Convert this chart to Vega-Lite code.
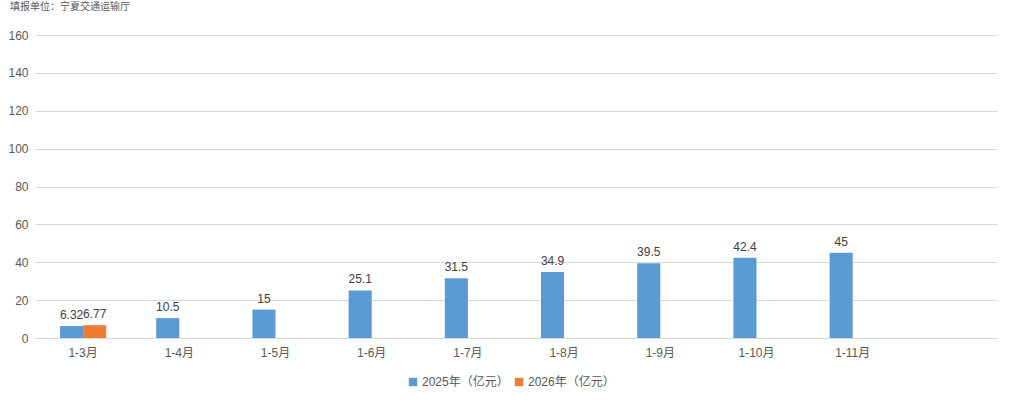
{
  "$schema": "https://vega.github.io/schema/vega-lite/v6.json",
  "width": 962,
  "height": 303,
  "autosize": {"type": "none"},
  "padding": {"left": 35, "top": 35, "right": 14, "bottom": 62},
  "background": "white",
  "title": {
    "text": "填报单位：宁夏交通运输厅",
    "anchor": "start",
    "frame": "group",
    "dx": -25,
    "offset": 17,
    "fontSize": 10,
    "fontWeight": "normal",
    "color": "#595959",
    "font": "Liberation Sans, Noto Sans CJK SC"
  },
  "config": {
    "view": {"stroke": null},
    "font": "Liberation Sans, Noto Sans CJK SC",
    "axis": {"labelFont": "Liberation Sans, Noto Sans CJK SC"},
    "legend": {"labelFont": "Liberation Sans, Noto Sans CJK SC"}
  },
  "data": {
    "values": [
      {"month": "1-3月", "series": "2025年（亿元）", "value": 6.32},
      {"month": "1-3月", "series": "2026年（亿元）", "value": 6.77},
      {"month": "1-4月", "series": "2025年（亿元）", "value": 10.5},
      {"month": "1-5月", "series": "2025年（亿元）", "value": 15},
      {"month": "1-6月", "series": "2025年（亿元）", "value": 25.1},
      {"month": "1-7月", "series": "2025年（亿元）", "value": 31.5},
      {"month": "1-8月", "series": "2025年（亿元）", "value": 34.9},
      {"month": "1-9月", "series": "2025年（亿元）", "value": 39.5},
      {"month": "1-10月", "series": "2025年（亿元）", "value": 42.4},
      {"month": "1-11月", "series": "2025年（亿元）", "value": 45}
    ]
  },
  "encoding": {
    "x": {
      "field": "month",
      "type": "nominal",
      "sort": null,
      "scale": {
        "domain": ["1-3月", "1-4月", "1-5月", "1-6月", "1-7月", "1-8月", "1-9月", "1-10月", "1-11月", "1-12月"],
        "paddingInner": 0.52,
        "paddingOuter": 0.26
      },
      "axis": {
        "title": null,
        "labelAngle": 0,
        "labelExpr": "datum.value == '1-12月' ? '' : datum.value",
        "labelFontSize": 12,
        "labelColor": "#595959",
        "labelPadding": 9,
        "ticks": false,
        "domainColor": "#d9d9d9",
        "grid": false
      }
    },
    "xOffset": {
      "field": "series",
      "type": "nominal",
      "scale": {"domain": ["2025年（亿元）", "2026年（亿元）"], "paddingInner": 0}
    },
    "y": {
      "field": "value",
      "type": "quantitative",
      "scale": {"domain": [0, 160]},
      "axis": {
        "title": null,
        "values": [0, 20, 40, 60, 80, 100, 120, 140, 160],
        "labelFontSize": 12,
        "labelColor": "#595959",
        "labelPadding": 7,
        "ticks": false,
        "domain": false,
        "gridColor": "#d9d9d9",
        "gridWidth": 1
      }
    }
  },
  "layer": [
    {
      "mark": {"type": "bar"},
      "encoding": {
        "color": {
          "field": "series",
          "type": "nominal",
          "scale": {"domain": ["2025年（亿元）", "2026年（亿元）"], "range": ["#5B9BD5", "#ED7D31"]},
          "legend": {
            "title": null,
            "orient": "none",
            "direction": "horizontal",
            "legendX": 372,
            "legendY": 341,
            "symbolType": "square",
            "symbolSize": 70,
            "symbolStrokeWidth": 0,
            "labelFontSize": 12,
            "labelColor": "#595959",
            "columnPadding": 4,
            "labelOffset": 3
          }
        }
      }
    },
    {
      "mark": {"type": "text", "dy": -11, "fontSize": 12, "color": "#404040"},
      "encoding": {
        "text": {"field": "value", "type": "quantitative"}
      }
    }
  ]
}
